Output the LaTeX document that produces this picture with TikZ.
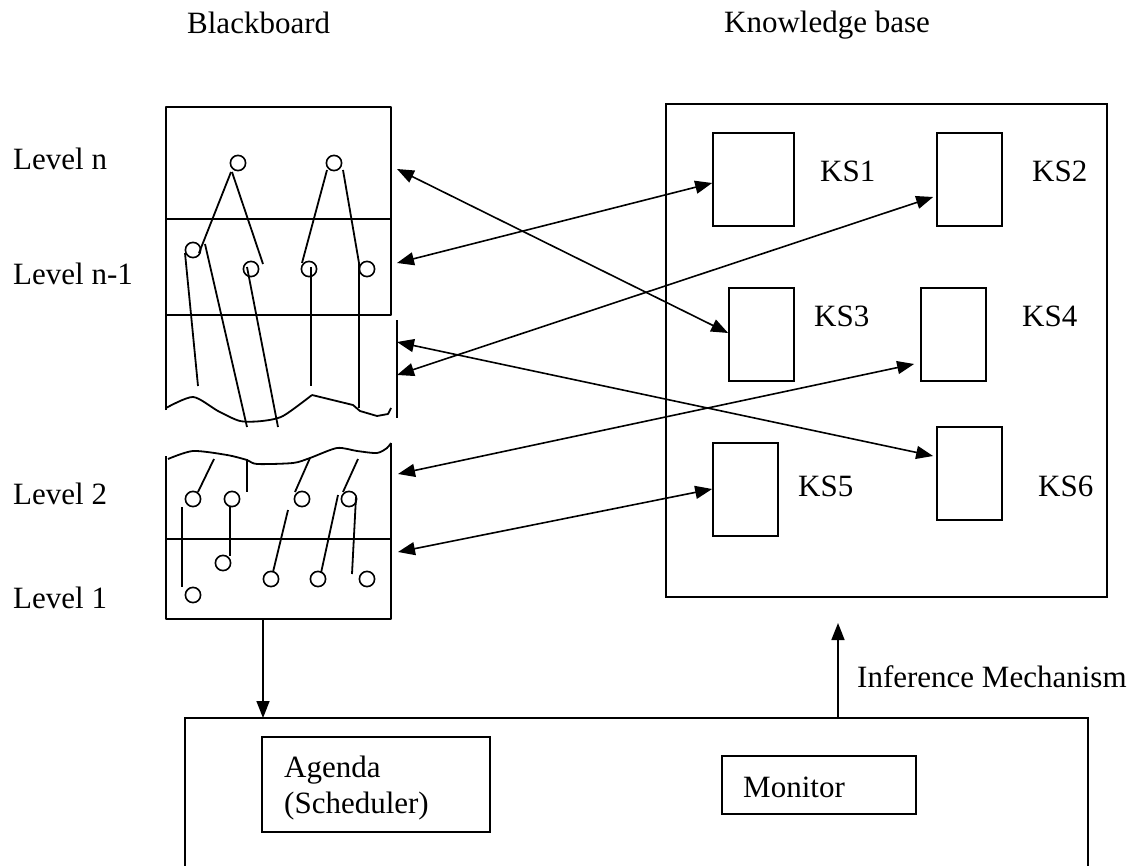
\documentclass[tikz,border=0pt]{standalone}
\usepackage{fontspec}
\setmainfont{Liberation Serif}
\usetikzlibrary{arrows.meta,calc}
\begin{document}
\begin{tikzpicture}[x=1pt,y=-1pt,
  lbl/.style={inner sep=0pt, anchor=base west, font=\fontsize{31}{36}\selectfont},
  boxed/.style={draw, line width=1.7pt, inner sep=0pt},
  pen/.style={line width=1.8pt, line join=round},
  bbcirc/.style={line width=1.6pt},
  tip/.tip={Triangle[length=17pt,width=13pt]},
  biarrow/.style={line width=1.6pt, tip-tip},
  onearrow/.style={line width=1.6pt, -tip}
]
\useasboundingbox (0,0) rectangle (1147,866);

% titles
\node[lbl] (tbb) at (187,34) {Blackboard};
\node[lbl] (tkb) at (724,33) {Knowledge base};

% level labels
\node[lbl] (ln)  at (13,170) {Level n};
\node[lbl] (ln1) at (13,284) {Level n-1};
\node[lbl] (l2)  at (13,504) {Level 2};
\node[lbl] (l1)  at (13,608) {Level 1};

% ---------- blackboard (upper part) ----------
\draw[pen] (166,410) -- (166,107) -- (391,107) -- (391,315) -- (166,315);
\draw[line width=2.8pt] (166,219) -- (391,219);
\draw[pen] (397,320) -- (397,418);
\draw[pen] plot[smooth, tension=0.45] coordinates {(166,408) (193,397) (218,411) (240,421) (262,421) (283,416) (312,395)};
\draw[pen] (312,395) -- (353,405) -- (360,411) -- (377,416) -- (388,414) -- (391,408);

\foreach \p in {(238,163),(334,163),(193,250),(251,269),(309,269),(367,269)}
  \draw[bbcirc] \p circle[radius=7.6];

\draw[pen] (231,172) -- (199,253);
\draw[pen] (232,172) -- (263,264);
\draw[pen] (327,170) -- (302,263);
\draw[pen] (343,170) -- (359,263);
\draw[pen] (185,253) -- (198,386);
\draw[pen] (205,244) -- (247,427);
\draw[pen] (247,267) -- (278,427);
\draw[pen] (311,267) -- (311,386);
\draw[pen] (359,263) -- (359,408);

% ---------- blackboard (lower part) ----------
\draw[pen] (166,456) -- (166,619) -- (391,619) -- (391,443);
\draw[pen] (166,539) -- (391,539);
\draw[pen] plot[smooth, tension=0.45] coordinates {(168,459) (193,451) (227,455) (247,460) (257,464) (293,463) (310,458) (337,448) (357,451) (377,453) (387,448) (391,443)};

\foreach \p in {(193,499),(232,499),(302,499),(349,499),(223,563),(193,595),(271,579),(318,579),(367,579)}
  \draw[bbcirc] \p circle[radius=7.6];

\draw[pen] (214,459) -- (198,492);
\draw[pen] (247,459) -- (247,492);
\draw[pen] (310,458) -- (295,492);
\draw[pen] (358,459) -- (343,492);
\draw[pen] (182,507) -- (182,587);
\draw[pen] (230,507) -- (230,556);
\draw[pen] (288,510) -- (273,572);
\draw[pen] (338,495) -- (321,573);
\draw[pen] (356,497) -- (352,574);

% arrow end points at the blackboard
\coordinate (bn)  at (397,169);
\coordinate (bn1) at (397,263);
\coordinate (bxa) at (397,342);
\coordinate (bxb) at (397,375);
\coordinate (b2)  at (398,474);
\coordinate (b1)  at (398,552);
\coordinate (bbot) at (263,619);

% ---------- knowledge base ----------
\node[boxed, minimum width=441pt, minimum height=493pt] (kb) at (886.5,350.5) {};
\node[boxed, minimum width=81pt, minimum height=93pt] (ks1) at (753.5,179.5) {};
\node[boxed, minimum width=65pt, minimum height=93pt] (ks2) at (969.5,179.5) {};
\node[boxed, minimum width=65pt, minimum height=93pt] (ks3) at (761.5,334.5) {};
\node[boxed, minimum width=65pt, minimum height=93pt] (ks4) at (953.5,334.5) {};
\node[boxed, minimum width=65pt, minimum height=93pt] (ks5) at (745.5,489.5) {};
\node[boxed, minimum width=65pt, minimum height=93pt] (ks6) at (969.5,473.5) {};

\node[lbl] (tks1) at (820,182) {KS1};
\node[lbl] (tks2) at (1032,182) {KS2};
\node[lbl] (tks3) at (814,326) {KS3};
\node[lbl] (tks4) at (1022,326) {KS4};
\node[lbl] (tks5) at (798,496) {KS5};
\node[lbl] (tks6) at (1038,496) {KS6};

% ---------- arrows ----------
\draw[biarrow] (bn)  -- ($(ks3.west)+(0,-1.5)$);
\draw[biarrow] (bn1) -- ($(ks1.west)+(0,3.5)$);
\draw[biarrow] (bxb) -- ($(ks2.west)+(-3,17.5)$);
\draw[biarrow] (bxa) -- ($(ks6.west)+(-3,-17.5)$);
\draw[biarrow] (b2)  -- ($(ks4.west)+(-6,29.5)$);
\draw[biarrow] (b1)  -- ($(ks5.west)+(0,-0.5)$);

% ---------- control unit ----------
\coordinate (cbl) at (185,866);
\coordinate (ctl) at (185,718);
\coordinate (ctr) at (1088,718);
\coordinate (cbr) at (1088,866);
\draw[line width=1.7pt] (cbl) -- (ctl) -- (ctr) -- (cbr);

\node[boxed, minimum width=228pt, minimum height=95pt] (agenda) at (376,784.5) {};
\node[lbl] (tag1) at (284,777) {Agenda};
\node[lbl] (tag2) at (284,813) {(Scheduler)};
\node[boxed, minimum width=194pt, minimum height=58pt] (monitor) at (819,785) {};
\node[lbl] (tmon) at (743,797) {Monitor};

\coordinate (ctop1) at (263,718);
\coordinate (ctop2) at (838,718);
\coordinate (kbin) at (838,623);
\draw[onearrow] (bbot) -- (ctop1);
\draw[onearrow] (ctop2) -- (kbin);
\node[lbl] (tinf) at (857,687) {Inference Mechanism};
\end{tikzpicture}
\end{document}
